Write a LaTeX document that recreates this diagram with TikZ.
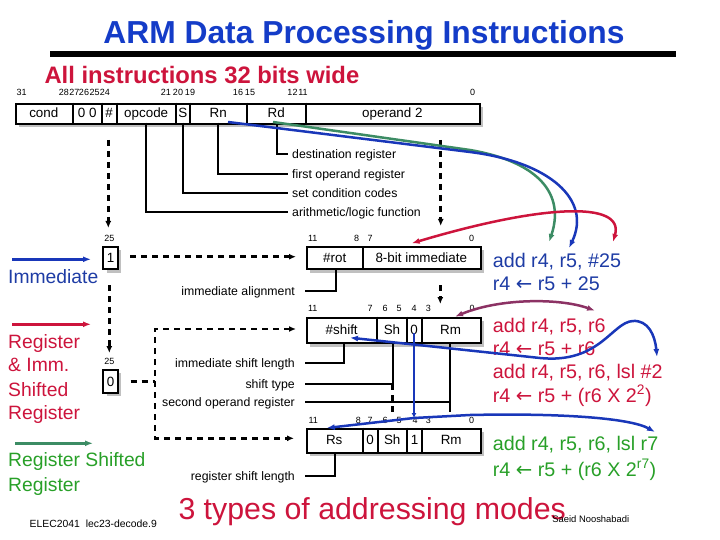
\documentclass[tikz,border=0pt]{standalone}
\usepackage{fontspec}
\setmainfont{Liberation Sans}
\newfontfamily\dvfont{DejaVu Sans}
\usetikzlibrary{arrows.meta}
\definecolor{ttlblue}{RGB}{20,60,200}
\definecolor{txtblue}{RGB}{30,60,165}
\definecolor{txtred}{RGB}{205,20,60}
\definecolor{txtgreen}{RGB}{40,160,40}
\definecolor{arrgreen}{RGB}{60,140,100}
\definecolor{arrblue}{RGB}{25,55,185}
\definecolor{arrpurple}{RGB}{140,50,100}
\definecolor{shgray}{RGB}{192,192,192}
\newcommand\myfs[1]{\fontsize{#1}{#1}\selectfont}
\newcommand\lar{{\dvfont ←}}
\begin{document}
\begin{tikzpicture}[x=1pt,y=-1pt,
  box/.style={draw, line width=2pt, fill=white, inner sep=0pt, anchor=north west},
  shbox/.style={fill=shgray, draw=none, inner sep=0pt, anchor=north west},
  fld/.style={inner sep=0pt, font=\myfs{13.4}, text height=9.6pt, text depth=0pt},
  bitn/.style={inner sep=0pt, font=\myfs{9}, text height=6.5pt, text depth=0pt},
  ldr/.style={inner sep=0pt, font=\myfs{12.3}, text height=8.8pt, text depth=0pt},
  lead/.style={line width=2pt},
  divl/.style={line width=2pt},
  dsh/.style={line width=2.5pt, dash pattern=on 6pt off 5pt},
  dtip/.style={-{Latex[length=7pt,width=6pt]}},
  cline/.style={line width=2.5pt},
  ctip/.style={-{Latex[length=8pt,width=6pt]}},
  ctips/.style={{Latex[length=8pt,width=6pt]}-{Latex[length=8pt,width=6pt]}},
  rtxt/.style={inner sep=0pt, anchor=west, font=\myfs{19.7}, text height=14.2pt, text depth=0pt},
  ltxt/.style={inner sep=0pt, anchor=west, font=\myfs{19.3}, text height=13.9pt, text depth=0pt}
]
\useasboundingbox (0,0) rectangle (720,540);
\fill[white] (0,0) rectangle (720,540);

% title
\node[inner sep=0pt, font=\myfs{31.8}\bfseries, text=ttlblue, text height=22.8pt, text depth=0pt] (title) at (364,31.7) {ARM Data Processing Instructions};
\fill[black] (50,50.7) rectangle (676,56.7);
\node[inner sep=0pt, anchor=west, font=\myfs{23.8}\bfseries, text=txtred, text height=17pt, text depth=0pt] (sub) at (44.3,75) {All instructions 32 bits wide};

% main format
\node[shbox, minimum width=464pt, minimum height=20pt] (fmtsh) at (19,106.7) {};
\node[box, minimum width=464pt, minimum height=20pt] (fmt) at (15,102.7) {};
\foreach \x in {72.7,101.7,116.7,175.7,190,246.7,305.7}
  \draw[divl] (\x,102.7) -- (\x,122.7);
\foreach \x/\t/\n in {43.8/cond/fc, 87.2/0 0/fz, 109.2/\#/fh, 146.2/opcode/fo, 182.8/S/fs, 218.3/Rn/frn, 276.2/Rd/frd, 392.4/operand 2/fop}
  \node[fld] (\n) at (\x,112.7) {\t};
\foreach \x/\t in {21.7/31, 64/28, 74.5/27, 84/26, 94.7/25, 105/24, 165.8/21, 178/20, 190/19, 238/16, 250/15, 292.5/12, 303/11, 472.5/0}
  \node[bitn] (tb\t) at (\x,92.7) {\t};

% top leaders
\node[ldr, anchor=west] (ldest) at (292,154) {destination register};
\node[ldr, anchor=west] (lfirst) at (292,174) {first operand register};
\node[ldr, anchor=west] (lset) at (292,192.7) {set condition codes};
\node[ldr, anchor=west] (larith) at (292,212) {arithmetic/logic function};
\draw[lead, shorten >=4pt] (276.7,122.7) |- (ldest.west);
\draw[lead, shorten >=4pt] (218,122.7) |- (lfirst.west);
\draw[lead, shorten >=4pt] (182.7,122.7) |- (lset.west);
\draw[lead, shorten >=4pt] (145.7,122.7) |- (larith.west);

% bit-25 boxes
\node[bitn] (b25a) at (109.3,238.3) {25};
\node[shbox, minimum width=14.4pt, minimum height=22.6pt] (b1sh) at (106.3,249.7) {};
\node[box, minimum width=14.4pt, minimum height=22.6pt] (b1) at (102.3,245.7) {};
\node[fld] (b1t) at (b1.center) {1};
\node[bitn] (b25b) at (109.3,361.7) {25};
\node[shbox, minimum width=14.4pt, minimum height=22.6pt] (b0sh) at (106.3,373) {};
\node[box, minimum width=14.4pt, minimum height=22.6pt] (b0) at (102.3,369) {};
\node[fld] (b0t) at (b0.center) {0};

% box A
\node[shbox, minimum width=174pt, minimum height=22.3pt] (Ash) at (310,250) {};
\node[box, minimum width=174pt, minimum height=22.3pt] (A) at (306,246) {};
\draw[divl] (363.3,246) -- (363.3,268.3);
\node[fld] (Arot) at (334.7,257.2) {\#rot};
\node[fld] (Aimm) at (421.3,257.2) {8-bit immediate};
\foreach \x/\t in {312.7/11, 356.7/8, 370/7, 471.7/0}
  \node[bitn] (ab\t) at (\x,238.3) {\t};

% box B
\node[shbox, minimum width=174pt, minimum height=25.6pt] (Bsh) at (310,320.7) {};
\node[box, minimum width=174pt, minimum height=25.6pt] (B) at (306,316.7) {};
\foreach \x in {377.3,406.7,421.7}
  \draw[divl] (\x,316.7) -- (\x,342.3);
\foreach \x/\t/\n in {341.7/\#shift/Bsf, 392/Sh/Bsh2, 414.2/0/Bz, 450.5/Rm/Brm}
  \node[fld] (\n) at (\x,329.5) {\t};
\foreach \x/\t in {312.7/11, 370/7, 385/6, 399/5, 414/4, 428.3/3, 472/0}
  \node[bitn] (bb\t) at (\x,308.3) {\t};

% box C
\node[shbox, minimum width=174pt, minimum height=24pt] (Csh) at (310,431.7) {};
\node[box, minimum width=174pt, minimum height=24pt] (C) at (306,427.7) {};
\foreach \x in {362.7,377.7,406.7,422.3}
  \draw[divl] (\x,427.7) -- (\x,451.7);
\foreach \x/\t/\n in {334.2/Rs/Crs, 370.2/0/Cz, 392.2/Sh/Csh2, 414.5/1/Cone, 451.2/Rm/Crm}
  \node[fld] (\n) at (\x,439.7) {\t};
\foreach \x/\t in {313.3/11, 358.3/8, 370/7, 385/6, 399/5, 415/4, 428.3/3, 471.7/0}
  \node[bitn] (cb\t) at (\x,420) {\t};

% lower leaders
\node[ldr, anchor=east] (lia) at (295,290.7) {immediate alignment};
\draw[lead] ([xshift=10pt]lia.east) -| (335.7,268.3);
\node[ldr, anchor=east] (lisl) at (295,363.3) {immediate shift length};
\draw[lead] ([xshift=10pt]lisl.east) -| (344.3,342.3);
\node[ldr, anchor=east] (lst) at (295,384.3) {shift type};
\draw[lead] ([xshift=10pt]lst.east) -| (392.7,342.3);
\node[ldr, anchor=east] (lsor) at (295,401.7) {second operand register};
\draw[lead] ([xshift=10pt]lsor.east) -- (450,401.7);
\draw[lead] (450,342.3) -- (450,412);
\draw[dsh] (392.7,384.3) -- (392.7,412);
\node[ldr, anchor=east] (lrsl) at (295,475.7) {register shift length};
\draw[lead] ([xshift=10pt]lrsl.east) -| (335,451.7);

% dashed arrows
\draw[dsh, dtip] (108.3,140) -- (108.3,228);
\draw[dsh, dtip] (440.7,140) -- (440.7,226);
\draw[dsh, dtip] (130,256.7) -- (296,256.7);
\draw[dsh, dtip] (109.3,285) -- (109.3,353);
\draw[dsh, dtip] (440.3,285) -- (440.3,304);
\draw[dsh] (130.7,381.7) -- (155,381.7);
\draw[dsh, {Latex[length=7pt,width=6pt]}-{Latex[length=7pt,width=6pt]}] (296,329) -- (155,329) -- (155,438.3) -- (294,438.3);

% right texts
\node[rtxt, text=txtblue] (t1) at (492.7,260) {add r4, r5, \#25};
\node[rtxt, text=txtblue] (t2) at (492.7,283) {r4 \lar{} r5 + 25};
\node[rtxt, text=txtred] (t3) at (492.7,325) {add r4, r5, r6};
\node[rtxt, text=txtred] (t4) at (492.7,348.3) {r4 \lar{} r5 + r6};
\node[rtxt, text=txtred] (t5) at (492.7,371.7) {add r4, r5, r6, lsl \#2};
\node[rtxt, text=txtred] (t6) at (492.7,395) {r4 \lar{} r5 + (r6 X 2\textsuperscript{2})};
\node[rtxt, text=txtgreen] (t7) at (492.7,443.3) {add r4, r5, r6, lsl r7};
\node[rtxt, text=txtgreen] (t8) at (492.7,469) {r4 \lar{} r5 + (r6 X 2\textsuperscript{r7})};

% left texts
\node[ltxt, text=txtblue] (l1) at (8,276.7) {Immediate};
\node[ltxt, text=txtred] (l2) at (8,341.7) {Register};
\node[ltxt, text=txtred] (l3) at (8,365) {\& Imm.};
\node[ltxt, text=txtred] (l4) at (8,389.3) {Shifted};
\node[ltxt, text=txtred] (l5) at (8,412.7) {Register};
\node[ltxt, text=txtgreen] (l6) at (8,460) {Register Shifted};
\node[ltxt, text=txtgreen] (l7) at (8,485) {Register};

% left arrows
\draw[cline, arrblue, ctip] (12,259.3) -- (91,259.3);
\draw[cline, txtred, ctip] (12,324.3) -- (91,324.3);
\draw[cline, arrgreen, ctip] (15,443.3) -- (93,443.3);

% colored curves
\draw[cline, arrgreen, ctip] (273,122) -- (470,150) .. controls (540,162) and (565,195) .. (549,242);
\draw[cline, arrblue, ctip] (228,122) -- (470,152) .. controls (550,162) and (592,200) .. (569,248);
\draw[cline, txtred, ctips] (613,242) .. controls (625,200) and (540,205) .. (411.7,243.3);
\draw[cline, arrpurple, ctips] (455,316.7) .. controls (500,298) and (560,298) .. (595,310.7);
\draw[cline, arrblue, ctips] (350,337.7) -- (540,358) .. controls (600,364) and (612,322) .. (633,321) .. controls (648,320) and (655,335) .. (657,357);
\draw[cline, arrblue, -{Latex[length=5pt,width=5pt]}] (414,333) -- (414,418);
\draw[cline, arrblue, ctips] (326.7,428) -- (414,418) -- (470,415) .. controls (560,413) and (630,418) .. (655,432);

% footer
\node[inner sep=0pt, font=\myfs{30.3}, text=txtred, anchor=west, text height=21.7pt, text depth=0pt] (modes) at (178.3,508.3) {3 types of addressing modes};
\node[inner sep=0pt, font=\myfs{10.4}] (foot) at (93.3,523.3) {ELEC2041\ \ lec23-decode.9};
\node[inner sep=0pt, font=\myfs{9.4}] (auth) at (590.8,519) {Saeid Nooshabadi};
\end{tikzpicture}
\end{document}
